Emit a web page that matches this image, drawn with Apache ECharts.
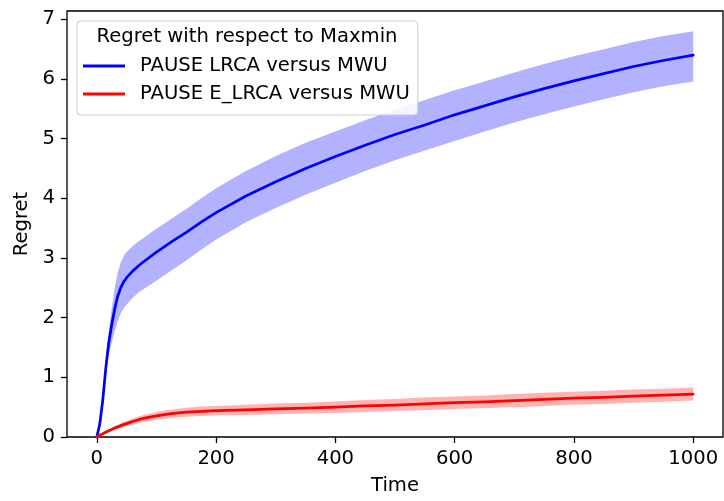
<!DOCTYPE html>
<html>
<head>
<meta charset="utf-8">
<title>Regret with respect to Maxmin</title>
<script src="https://cdn.jsdelivr.net/npm/echarts@6/dist/echarts.min.js"></script>
<style>
  html, body { margin: 0; padding: 0; background: #fff; }
  #chart { width: 724px; height: 501px; }
</style>
</head>
<body>
<div id="chart"></div>
<script>
// Sample times (rounds)
const time = [0, 5, 10, 15, 20, 25, 30, 35, 40, 45, 50, 60, 70, 80, 100, 125, 150, 175, 200,
  250, 300, 350, 400, 450, 500, 550, 600, 650, 700, 750, 800, 850, 900, 950, 1000];

// PAUSE LRCA versus MWU: mean regret and its spread band
const lrcaMean = [0, 0.22, 0.62, 1.15, 1.58, 1.88, 2.15, 2.36, 2.50, 2.60, 2.67, 2.78, 2.87, 2.95, 3.10, 3.27, 3.43, 3.60, 3.76,
  4.04, 4.28, 4.50, 4.70, 4.89, 5.07, 5.23, 5.40, 5.55, 5.70, 5.84, 5.97, 6.09, 6.21, 6.31, 6.40];
const lrcaUpper = [0, 0.24, 0.68, 1.27, 1.78, 2.16, 2.50, 2.75, 2.92, 3.03, 3.10, 3.20, 3.28, 3.35, 3.49, 3.66, 3.82, 4.00, 4.17,
  4.46, 4.71, 4.93, 5.12, 5.31, 5.49, 5.65, 5.81, 5.96, 6.11, 6.25, 6.38, 6.50, 6.62, 6.72, 6.80];
const lrcaLower = [0, 0.20, 0.56, 1.03, 1.38, 1.58, 1.78, 1.94, 2.07, 2.16, 2.22, 2.33, 2.42, 2.49, 2.62, 2.79, 2.96, 3.14, 3.31,
  3.60, 3.84, 4.06, 4.26, 4.46, 4.64, 4.80, 4.96, 5.12, 5.27, 5.41, 5.54, 5.66, 5.78, 5.88, 5.96];

// PAUSE E_LRCA versus MWU: mean regret and its spread band
const elrcaMean = [0, 0.03, 0.055, 0.08, 0.105, 0.125, 0.15, 0.17, 0.19, 0.208, 0.225, 0.26, 0.29, 0.315, 0.355, 0.39, 0.415, 0.43, 0.44,
  0.455, 0.47, 0.485, 0.50, 0.52, 0.535, 0.555, 0.575, 0.59, 0.61, 0.63, 0.65, 0.665, 0.685, 0.70, 0.72];
const elrcaUpper = [0, 0.035, 0.065, 0.095, 0.125, 0.15, 0.18, 0.205, 0.23, 0.25, 0.27, 0.31, 0.345, 0.375, 0.42, 0.46, 0.49, 0.51, 0.52,
  0.54, 0.56, 0.575, 0.595, 0.62, 0.635, 0.66, 0.68, 0.695, 0.72, 0.74, 0.76, 0.775, 0.795, 0.81, 0.83];
const elrcaLower = [0, 0.025, 0.045, 0.065, 0.085, 0.10, 0.12, 0.135, 0.15, 0.165, 0.18, 0.21, 0.235, 0.255, 0.29, 0.32, 0.34, 0.35, 0.36,
  0.37, 0.38, 0.395, 0.405, 0.42, 0.435, 0.45, 0.47, 0.485, 0.50, 0.52, 0.54, 0.555, 0.575, 0.59, 0.61];

// Tick labels
const xTicks = [0, 200, 400, 600, 800, 1000];
const yTicks = [0, 1, 2, 3, 4, 5, 6, 7];

const seriesNames = ['PAUSE LRCA versus MWU', 'PAUSE E_LRCA versus MWU'];
const legendTitle = 'Regret with respect to Maxmin';

const FONT = 'DejaVu Sans';
const FS = 19.6;

function pairs(xs, ys) {
  return xs.map((x, i) => [x, ys[i]]);
}

// Filled band between two curves, drawn as one polygon in data coordinates
function band(upper, lower, fill) {
  return {
    type: 'custom',
    silent: true,
    clip: true,
    data: [[0, 0]],
    encode: { x: 0, y: 1 },
    renderItem: function (params, api) {
      const pts = [];
      for (let i = 0; i < time.length; i++) pts.push(api.coord([time[i], upper[i]]));
      for (let i = time.length - 1; i >= 0; i--) pts.push(api.coord([time[i], lower[i]]));
      return { type: 'polygon', shape: { points: pts }, style: { fill: fill } };
    }
  };
}

function line(name, ys, color) {
  return {
    type: 'line',
    name: name,
    data: pairs(time, ys),
    showSymbol: false,
    symbol: 'none',
    smooth: false,
    clip: true,
    lineStyle: { color: color, width: 2.75, join: 'round', cap: 'round' },
    itemStyle: { color: color },
    emphasis: { disabled: true }
  };
}

const plainLabel = v => String(v);

const chart = echarts.init(document.getElementById('chart'), null, { renderer: 'canvas' });

chart.setOption({
  animation: false,
  backgroundColor: '#ffffff',
  textStyle: { fontFamily: FONT },
  grid: {
    left: 67, right: 1, top: 11, bottom: 64,
    show: true, borderColor: '#000', borderWidth: 1.3, backgroundColor: 'transparent'
  },
  xAxis: {
    type: 'value',
    min: -50, max: 1050,
    name: 'Time',
    nameLocation: 'middle',
    nameGap: 39,
    nameTextStyle: { fontFamily: FONT, fontSize: FS, color: '#000' },
    axisLine: { show: false, onZero: false },
    splitLine: { show: false },
    axisTick: { show: true, length: 6, customValues: xTicks, lineStyle: { color: '#000', width: 1.3 } },
    axisLabel: { customValues: xTicks, formatter: plainLabel, margin: 12, fontFamily: FONT, fontSize: FS, color: '#000' }
  },
  yAxis: {
    type: 'value',
    min: 0, max: 7.14,
    name: 'Regret',
    nameLocation: 'middle',
    nameGap: 34,
    nameRotate: 90,
    nameTextStyle: { fontFamily: FONT, fontSize: FS, color: '#000' },
    axisLine: { show: false, onZero: false },
    splitLine: { show: false },
    axisTick: { show: true, length: 6, customValues: yTicks, lineStyle: { color: '#000', width: 1.3 } },
    axisLabel: { customValues: yTicks, formatter: plainLabel, margin: 12, fontFamily: FONT, fontSize: FS, color: '#000' }
  },
  legend: {
    orient: 'vertical',
    left: 77, top: 21,
    data: seriesNames,
    padding: [34, 8, 10, 6],
    itemWidth: 42, itemHeight: 3, itemGap: 6,
    icon: 'rect',
    selectedMode: false,
    backgroundColor: 'rgba(255,255,255,0.85)',
    borderColor: '#cccccc', borderWidth: 1, borderRadius: 4,
    textStyle: { fontFamily: FONT, fontSize: FS, color: '#000', lineHeight: 22, padding: [0, 0, 0, 10] },
    z: 20
  },
  graphic: [{
    type: 'text',
    x: 247, y: 37,
    z: 30,
    style: {
      text: legendTitle,
      font: FS + 'px "' + FONT + '"',
      fill: '#000',
      textAlign: 'center',
      textVerticalAlign: 'middle'
    }
  }],
  series: [
    band(lrcaUpper, lrcaLower, 'rgba(0,0,255,0.3)'),
    line(seriesNames[0], lrcaMean, '#0000ff'),
    band(elrcaUpper, elrcaLower, 'rgba(255,0,0,0.3)'),
    line(seriesNames[1], elrcaMean, '#ff0000')
  ]
});
</script>
</body>
</html>
